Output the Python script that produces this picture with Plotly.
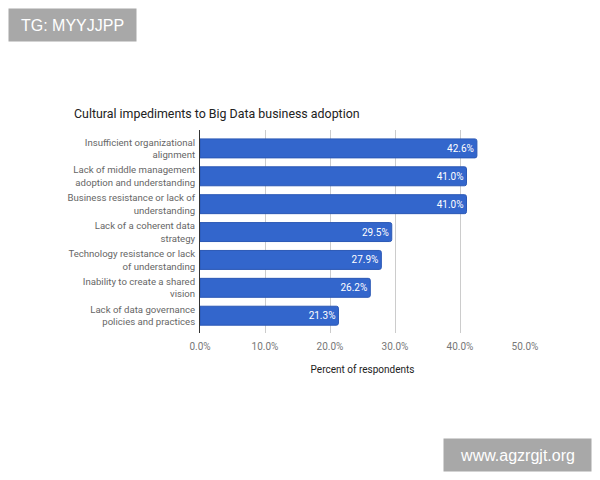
import plotly.graph_objects as go

categories = [
    "Insufficient organizational<br>alignment",
    "Lack of middle management<br>adoption and understanding",
    "Business resistance or lack of<br>understanding",
    "Lack of a coherent data<br>strategy",
    "Technology resistance or lack<br>of understanding",
    "Inability to create a shared<br>vision",
    "Lack of data governance<br>policies and practices",
]
values = [0.426, 0.410, 0.410, 0.295, 0.279, 0.262, 0.213]
x_ticks = [0, 0.1, 0.2, 0.3, 0.4, 0.5]

W, H = 600, 480
L, R, T, B = 200, 75, 130, 147
PW, PH = W - L - R, H - T - B


def px(x):
    return (x - L) / PW


def py(y):
    return (H - B - y) / PH


fig = go.Figure(go.Bar(
    x=values,
    y=categories,
    orientation="h",
    width=0.68,
    marker=dict(color="#3366cc", line=dict(color="#2b58b5", width=1), cornerradius=2),
    texttemplate="%{x:.1%}",
    textposition="inside",
    insidetextanchor="end",
    textfont=dict(color="white", size=10, family="Roboto"),
    hoverinfo="skip",
))

fig.update_layout(
    width=W, height=H,
    margin=dict(l=L, r=R, t=T, b=B),
    paper_bgcolor="white", plot_bgcolor="white",
    font=dict(family="Roboto", size=10, color="#777"),
    showlegend=False,
    title=dict(
        text="Cultural impediments to Big Data business adoption",
        xref="container", yref="container",
        x=74 / W, xanchor="left",
        y=1 - 114 / H, yanchor="middle",
        font=dict(family="Roboto", size=12.4, color="#222"),
    ),
    xaxis=dict(
        range=[0, 0.5],
        tickvals=x_ticks,
        tickformat=".1%",
        showgrid=True, gridcolor="#cccccc", gridwidth=1,
        zeroline=False, showline=False,
        ticks="outside", ticklen=4, tickcolor="rgba(0,0,0,0)",
        tickfont=dict(size=10, color="#777"),
        title=dict(text="Percent of respondents", font=dict(size=10, color="#222"), standoff=14),
    ),
    yaxis=dict(
        categoryorder="array", categoryarray=categories,
        autorange=False, range=[6.62, -0.66],
        showline=True, linecolor="#333", linewidth=1,
        showgrid=False, zeroline=False, ticks="",
        tickfont=dict(size=9.6, color="#666"),
        ticklabelstandoff=2,
    ),
    annotations=[
        dict(text="TG: MYYJJPP", xref="paper", yref="paper",
             x=px(72.5), y=py(25), xanchor="center", yanchor="middle",
             width=125, height=30, bgcolor="#a8a8a8", showarrow=False,
             font=dict(family="Liberation Sans", size=16, color="white")),
        dict(text="www.agzrgjt.org", xref="paper", yref="paper",
             x=px(517.5), y=py(455), xanchor="center", yanchor="middle",
             width=145, height=30, bgcolor="#a8a8a8", showarrow=False,
             font=dict(family="Liberation Sans", size=16, color="white")),
    ],
)

fig.write_html("out.html")
